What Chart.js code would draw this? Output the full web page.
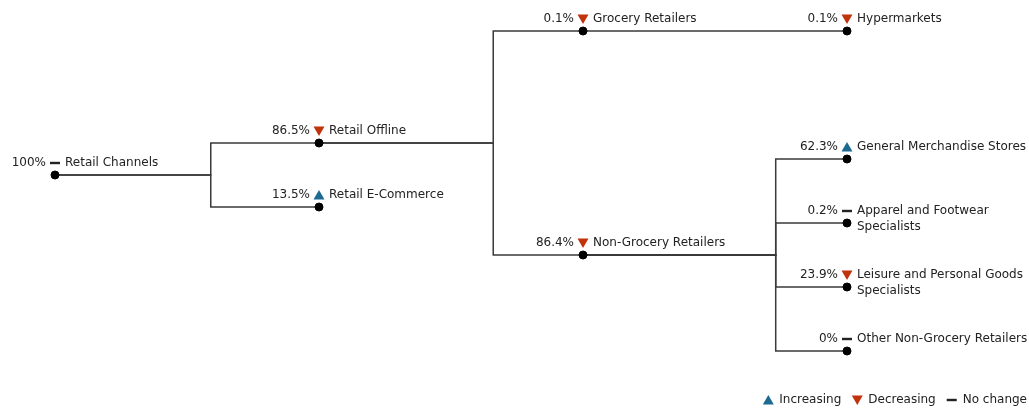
<!DOCTYPE html>
<html>
<head>
<meta charset="utf-8">
<script src="https://cdn.jsdelivr.net/npm/chart.js@4/dist/chart.umd.min.js"></script>
<style>
  html, body { margin: 0; padding: 0; background: #fff; }
  #wrap { width: 1029px; height: 411px; }
</style>
</head>
<body>
<div id="wrap"><canvas id="treeChart"></canvas></div>
<script>
// Tree nodes
const nodeNames = [
  ["Retail Channels"],
  ["Retail Offline"],
  ["Retail E-Commerce"],
  ["Grocery Retailers"],
  ["Non-Grocery Retailers"],
  ["Hypermarkets"],
  ["General Merchandise Stores"],
  ["Apparel and Footwear", "Specialists"],
  ["Leisure and Personal Goods", "Specialists"],
  ["Other Non-Grocery Retailers"]
];
const nodeShares = ["100%", "86.5%", "13.5%", "0.1%", "86.4%", "0.1%", "62.3%", "0.2%", "23.9%", "0%"];
const nodeTrends = ["flat", "down", "up", "down", "down", "down", "up", "flat", "down", "flat"];
const nodeParents = [-1, 0, 0, 1, 1, 3, 4, 4, 4, 4];
const nodeRows = [4.5, 3.5, 5.5, 0, 7, 0, 4, 6, 8, 10];

// where the elbow sits between a level and the next one
const elbowAt = [0.59, 0.66, 0.73];

const legendItems = [
  { trend: "up", text: "Increasing" },
  { trend: "down", text: "Decreasing" },
  { trend: "flat", text: "No change" }
];

const UP_COLOR = "#1d6a93";
const DOWN_COLOR = "#c1330c";
const LINE_COLOR = "#3a3a3a";
const TEXT_COLOR = "#222";
const FONT = "12px 'DejaVu Sans', Verdana, sans-serif";

const nodeLevels = nodeParents.map(function levelOf(p, i) {
  let lvl = 0, cur = i;
  while (nodeParents[cur] !== -1) { cur = nodeParents[cur]; lvl++; }
  return lvl;
});

// one elbow line per edge
const edgeSets = [];
nodeParents.forEach((p, i) => {
  if (p < 0) return;
  const ex = nodeLevels[p] + elbowAt[nodeLevels[p]];
  edgeSets.push({
    type: "line",
    data: [
      { x: nodeLevels[p], y: nodeRows[p] },
      { x: ex, y: nodeRows[p] },
      { x: ex, y: nodeRows[i] },
      { x: nodeLevels[i], y: nodeRows[i] }
    ],
    borderColor: LINE_COLOR,
    borderWidth: 1.5,
    pointRadius: 0,
    fill: false,
    clip: false,
    order: 2
  });
});

function drawMarker(ctx, trend, x, y) {
  ctx.save();
  if (trend === "up") {
    ctx.fillStyle = UP_COLOR;
    ctx.beginPath();
    ctx.moveTo(x, y - 5);
    ctx.lineTo(x + 5.5, y + 4.5);
    ctx.lineTo(x - 5.5, y + 4.5);
    ctx.closePath();
    ctx.fill();
  } else if (trend === "down") {
    ctx.fillStyle = DOWN_COLOR;
    ctx.beginPath();
    ctx.moveTo(x - 5.5, y - 4.5);
    ctx.lineTo(x + 5.5, y - 4.5);
    ctx.lineTo(x, y + 5);
    ctx.closePath();
    ctx.fill();
  } else {
    ctx.fillStyle = "#222";
    ctx.fillRect(x - 5, y - 1.2, 10, 2.4);
  }
  ctx.restore();
}

const labelPlugin = {
  id: "treeLabels",
  afterDatasetsDraw(chart) {
    const ctx = chart.ctx;
    const xs = chart.scales.x, ys = chart.scales.y;
    ctx.save();
    ctx.font = FONT;
    ctx.fillStyle = TEXT_COLOR;
    ctx.textBaseline = "middle";
    nodeNames.forEach((lines, i) => {
      const px = xs.getPixelForValue(nodeLevels[i]);
      const py = ys.getPixelForValue(nodeRows[i]);
      const ly = py - 12;
      ctx.textAlign = "right";
      ctx.fillText(nodeShares[i], px - 9, ly);
      drawMarker(ctx, nodeTrends[i], px, ly);
      ctx.textAlign = "left";
      lines.forEach((t, k) => ctx.fillText(t, px + 10, ly + k * 16));
    });

    // legend, bottom right
    let lx = chart.width - 2;
    const legY = 400;
    ctx.textAlign = "left";
    for (let k = legendItems.length - 1; k >= 0; k--) {
      const w = ctx.measureText(legendItems[k].text).width;
      lx -= w;
      ctx.fillText(legendItems[k].text, lx, legY);
      drawMarker(ctx, legendItems[k].trend, lx - 11, legY);
      lx -= 11 + 16;
    }
    ctx.restore();
  }
};

new Chart(document.getElementById("treeChart"), {
  type: "scatter",
  data: {
    datasets: [
      {
        data: nodeRows.map((r, i) => ({ x: nodeLevels[i], y: r })),
        backgroundColor: "#000",
        borderColor: "#000",
        pointRadius: 4,
        pointHoverRadius: 4,
        clip: false,
        order: 1
      }
    ].concat(edgeSets)
  },
  options: {
    responsive: true,
    maintainAspectRatio: false,
    animation: false,
    events: [],
    layout: { padding: { left: 55, right: 182, top: 31, bottom: 60 } },
    plugins: { legend: { display: false }, tooltip: { enabled: false } },
    scales: {
      x: { type: "linear", display: false, min: 0, max: 3 },
      y: { type: "linear", display: false, min: 0, max: 10, reverse: true }
    }
  },
  plugins: [labelPlugin]
});
</script>
</body>
</html>
